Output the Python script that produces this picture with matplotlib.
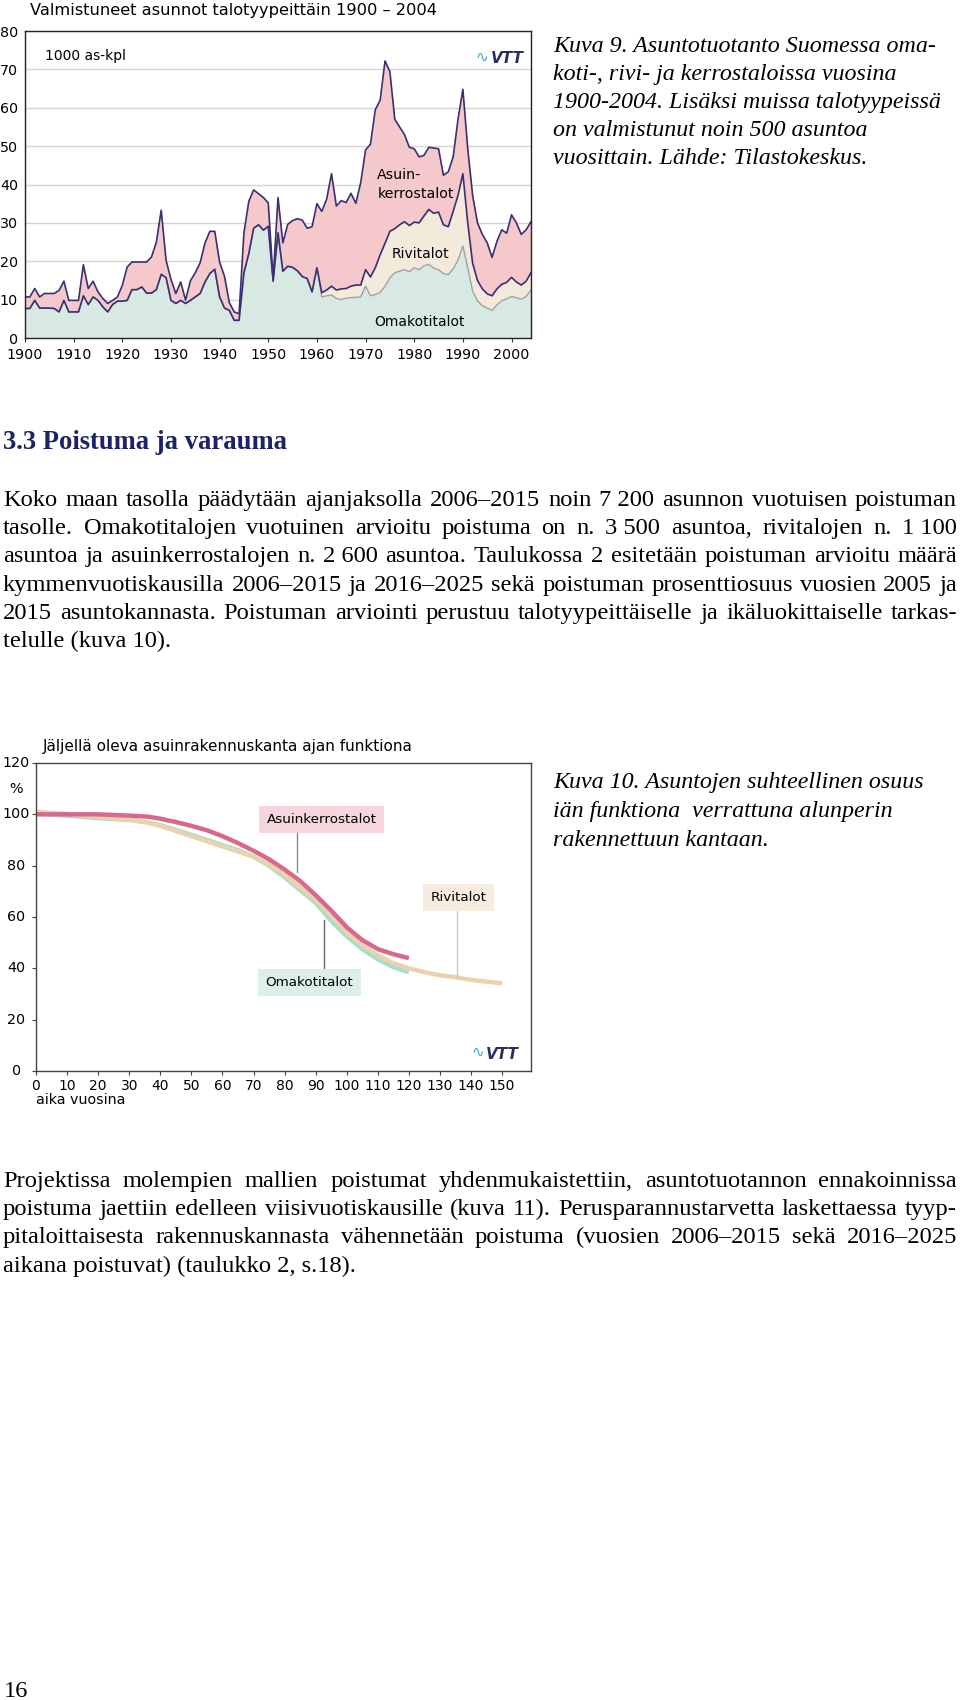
import numpy as np
import matplotlib
matplotlib.use("Agg")
import matplotlib.pyplot as plt

# ---------------- data: chart 1 (1000 dwellings / year, cumulative boundaries) -------------
years = np.arange(1900, 2005)
omakoti = [7.7, 7.7, 9.8, 7.8, 7.8, 7.8, 7.7, 6.8, 9.8, 6.8,
           6.8, 6.8, 11.0, 8.7, 10.7, 9.8, 8.1, 6.8, 8.7, 9.6,
           9.6, 9.8, 12.6, 12.6, 13.3, 11.7, 11.7, 12.6, 16.6, 15.7,
           9.8, 9.0, 9.8, 9.0, 9.8, 10.7, 11.6, 14.6, 16.8, 17.9,
           10.7, 7.8, 7.2, 4.6, 4.6, 17.0, 22.0, 28.6, 29.5, 28.1,
           29.1, 14.8, 27.4, 17.4, 18.7, 18.4, 17.5, 16.0, 15.5, 12.0,
           18.3, 10.7, 11.0, 11.2, 10.3, 10.0, 10.4, 10.5, 10.6, 10.7,
           13.5, 11.0, 11.3, 11.9, 13.5, 15.7, 17.0, 17.4, 17.8, 17.3,
           18.3, 17.8, 18.8, 19.2, 18.2, 17.8, 16.8, 16.5, 18.0, 20.3,
           24.0, 18.3, 12.2, 9.7, 8.4, 7.8, 7.2, 8.6, 9.7, 10.2,
           10.8, 10.5, 10.1, 10.8, 12.5]
omakoti_rivi = [7.7, 7.7, 9.8, 7.8, 7.8, 7.8, 7.7, 6.8, 9.8, 6.8,
                6.8, 6.8, 11.0, 8.7, 10.7, 9.8, 8.1, 6.8, 8.7, 9.6,
                9.6, 9.8, 12.6, 12.6, 13.3, 11.7, 11.7, 12.6, 16.6, 15.7,
                9.8, 9.0, 9.8, 9.0, 9.8, 10.7, 11.6, 14.6, 16.8, 17.9,
                10.7, 7.8, 7.2, 4.6, 4.6, 17.0, 22.0, 28.6, 29.5, 28.1,
                29.1, 14.8, 27.4, 17.4, 18.7, 18.4, 17.5, 16.0, 15.5, 12.0,
                18.3, 11.8, 12.5, 13.5, 12.5, 12.8, 12.9, 13.5, 13.8, 13.8,
                17.8, 15.9, 18.3, 21.7, 24.7, 27.8, 28.5, 29.5, 30.3, 29.3,
                30.2, 30.0, 31.8, 33.5, 32.5, 32.8, 29.5, 29.0, 33.0, 37.2,
                42.8, 30.0, 19.5, 15.0, 12.8, 11.5, 11.0, 12.8, 14.0, 14.5,
                15.8, 14.6, 13.8, 14.8, 17.0]
yhteensa = [10.7, 10.7, 12.9, 10.7, 11.6, 11.6, 11.6, 12.4, 14.8, 9.8,
            9.8, 9.8, 19.1, 12.9, 14.8, 12.0, 10.3, 9.0, 9.8, 10.7,
            13.7, 18.5, 19.8, 19.8, 19.8, 19.8, 21.1, 25.0, 33.3, 20.2,
            15.3, 11.6, 14.6, 9.9, 14.9, 17.0, 19.6, 24.8, 27.8, 27.8,
            19.8, 16.1, 9.2, 6.8, 6.3, 27.4, 35.6, 38.6, 37.6, 36.6,
            35.2, 15.3, 36.6, 24.8, 29.6, 30.6, 31.1, 30.7, 28.6, 29.0,
            35.0, 33.0, 36.2, 42.8, 34.4, 35.8, 35.3, 37.7, 35.1, 40.5,
            49.0, 50.5, 59.5, 62.0, 72.2, 69.4, 57.0, 55.0, 53.0, 49.7,
            49.3, 47.2, 47.6, 49.7, 49.5, 49.3, 42.4, 43.3, 47.2, 57.0,
            64.8, 49.3, 37.2, 30.0, 27.0, 24.8, 21.0, 25.2, 28.2, 27.3,
            32.1, 30.0, 27.0, 28.2, 30.3]
x1_ticks = list(range(1900, 2001, 10))
y1_ticks = list(range(0, 81, 10))

# ---------------- data: chart 2 (% remaining vs age) ----------------
age_k = [0, 10, 20, 30, 36, 40, 45, 50, 55, 60, 65, 70, 75, 80, 85, 90, 95, 100, 105, 110, 115, 120]
kerros = [100, 100, 100, 99.5, 99.1, 98.3, 97, 95.5, 93.8, 91.5, 88.8, 85.8, 82.5, 78.5, 74,
          68.5, 62.5, 56, 51, 47.5, 45.5, 44]
age_o = [0, 10, 20, 30, 35, 40, 45, 50, 55, 60, 65, 70, 75, 80, 85, 90, 95, 100, 105, 110, 115, 120]
omakotitalot = [100.3, 99.5, 98.5, 97.8, 97, 95.8, 94, 92, 90, 88, 86, 83.5, 80, 75.5, 70.5,
                65.5, 58.5, 52.5, 47.5, 43.5, 40.5, 38.5]
age_r = [0, 10, 20, 30, 35, 40, 45, 50, 55, 60, 65, 70, 75, 80, 85, 90, 95, 100, 105, 110,
         115, 120, 125, 130, 135, 140, 145, 150]
rivitalot = [101, 100.2, 99, 98, 97, 95.5, 93.5, 91.5, 89.5, 87.5, 85.5, 83.5, 80.5, 76.5, 71.5,
             66.5, 60.5, 54, 49, 45, 42, 40, 38.5, 37.3, 36.5, 35.5, 34.8, 34.2]
x2_ticks = list(range(0, 151, 10))
y2_ticks = [0, 20, 40, 60, 80, 100, 120]

# ---------------- texts ----------------
caption9 = ["Kuva 9. Asuntotuotanto Suomessa oma-",
            "koti-, rivi- ja kerrostaloissa vuosina",
            "1900-2004. Lisäksi muissa talotyypeissä",
            "on valmistunut noin 500 asuntoa",
            "vuosittain. Lähde: Tilastokeskus."]
caption10 = ["Kuva 10. Asuntojen suhteellinen osuus",
             "iän funktiona  verrattuna alunperin",
             "rakennettuun kantaan."]
heading = "3.3 Poistuma ja varauma"
NB = "\u00a0"
para1 = ["Koko maan tasolla päädytään ajanjaksolla 2006–2015 noin 7" + NB + "200 asunnon vuotuisen poistuman",
         "tasolle. Omakotitalojen vuotuinen arvioitu poistuma on n. 3" + NB + "500 asuntoa, rivitalojen n. 1" + NB + "100",
         "asuntoa ja asuinkerrostalojen n. 2" + NB + "600 asuntoa. Taulukossa 2 esitetään poistuman arvioitu määrä",
         "kymmenvuotiskausilla 2006–2015 ja 2016–2025 sekä poistuman prosenttiosuus vuosien 2005 ja",
         "2015 asuntokannasta. Poistuman arviointi perustuu talotyypeittäiselle ja ikäluokittaiselle tarkas-",
         "telulle (kuva 10)."]
para2 = ["Projektissa molempien mallien poistumat yhdenmukaistettiin, asuntotuotannon ennakoinnissa",
         "poistuma jaettiin edelleen viisivuotiskausille (kuva 11). Perusparannustarvetta laskettaessa tyyp-",
         "pitaloittaisesta rakennuskannasta vähennetään poistuma (vuosien 2006–2015 sekä 2016–2025",
         "aikana poistuvat) (taulukko 2, s.18)."]

# ---------------- figure ----------------
W, H = 960, 1700
fig = plt.figure(figsize=(W / 100, H / 100), dpi=100)
fig.patch.set_facecolor("white")
SANS = "DejaVu Sans"
SERIF = "Liberation Serif"
renderer = fig.canvas.get_renderer()


def fx(x):
    return x / W


def fy(y):
    return 1 - y / H


def add_axes_px(l, t, r, b):
    return fig.add_axes([fx(l), fy(b), (r - l) / W, (b - t) / H])


NAVY = "#3a2f70"
GREEN = "#d8e9e3"
BEIGE = "#f4eadb"
PINK = "#f5c8cc"

# ---- chart 1 ----
ax1 = add_axes_px(25, 31, 531, 338)
ax1.fill_between(years, 0, omakoti, color=GREEN, lw=0)
ax1.fill_between(years, omakoti, omakoti_rivi, color=BEIGE, lw=0)
ax1.fill_between(years, omakoti_rivi, yhteensa, color=PINK, lw=0)
ax1.plot(years, omakoti, color="#a0a0a8", lw=1.0)
ax1.plot(years, omakoti_rivi, color=NAVY, lw=1.2)
ax1.plot(years, yhteensa, color=NAVY, lw=1.2)
ax1.set_xlim(1900, 2004)
ax1.set_ylim(0, 80)
ax1.set_yticks(y1_ticks)
ax1.set_xticks(x1_ticks)
ax1.set_xticklabels([str(v) for v in x1_ticks], fontsize=10.3, family=SANS)
ax1.set_yticklabels([str(v) for v in y1_ticks], fontsize=10.3, family=SANS)
ax1.tick_params(axis="y", length=0, pad=5)
ax1.tick_params(axis="x", length=3, pad=4, color="#333333")
ax1.grid(axis="y", color="#d4d4d4", lw=1.0)
ax1.set_axisbelow(True)
for s in ax1.spines.values():
    s.set_color("#222222")
    s.set_linewidth(1.0)
ax1.text(0.04, 0.92, "1000 as-kpl", transform=ax1.transAxes, fontsize=10, family=SANS,
         va="center", ha="left")
ax1.text(1972.4, 42.6, "Asuin-", fontsize=10.2, family=SANS, va="center", ha="left")
ax1.text(1972.4, 37.6, "kerrostalot", fontsize=10.2, family=SANS, va="center", ha="left")
ax1.text(1981.2, 21.8, "Rivitalot", fontsize=10, family=SANS, va="center", ha="center")
ax1.text(1981.0, 4.1, "Omakotitalot", fontsize=10, family=SANS, va="center", ha="center")
ax1.text(0.915, 0.915, "∿", transform=ax1.transAxes, fontsize=11, color="#3fa9c9",
         ha="right", va="center")
ax1.text(0.985, 0.91, "VTT", transform=ax1.transAxes, fontsize=11, color="#2a2e5c",
         fontweight="bold", style="italic", ha="right", va="center", family=SANS)
fig.text(fx(30), fy(10), "Valmistuneet asunnot talotyypeittäin 1900 – 2004", fontsize=11.7,
         family=SANS, ha="left", va="center")

# ---- chart 2 ----
ax2 = add_axes_px(36, 763, 531, 1071)
ax2.plot(age_o, omakotitalot, color="#a8dccc", lw=3.2, solid_capstyle="butt")
ax2.plot(age_r, rivitalot, color="#e9d3ae", lw=3.2, solid_capstyle="butt")
ax2.plot(age_k, kerros, color="#d9688c", lw=3.2, solid_capstyle="butt")
ax2.set_xlim(0, 159.3)
ax2.set_ylim(0, 120)
ax2.set_xticks(x2_ticks)
ax2.set_xticklabels([str(v) for v in x2_ticks], fontsize=10, family=SANS)
ax2.set_yticks(y2_ticks)
ax2.set_yticklabels([])
ax2.tick_params(axis="x", length=3, pad=3, color="#444444")
ax2.tick_params(axis="y", length=3, color="#444444")
for s in ax2.spines.values():
    s.set_color("#444444")
    s.set_linewidth(1.0)
ytr = ax2.get_yaxis_transform()
for v in y2_ticks:
    ax2.text(-0.04, v, str(v), transform=ytr, fontsize=10.3, family=SANS, ha="center", va="center")
ax2.text(-0.04, 110, "%", transform=ytr, fontsize=10.3, family=SANS, ha="center", va="center")
ax2.text(0.0, -0.095, "aika vuosina", transform=ax2.transAxes, fontsize=10.3, family=SANS,
         ha="left", va="center")

ax2.plot([84, 84], [93.5, 77.5], color="#8a8a8a", lw=1.0)
ax2.plot([135.5, 135.5], [63.0, 36.8], color="#c8c8c8", lw=1.0)
ax2.plot([92.7, 92.7], [39.5, 58.7], color="#666666", lw=1.0)
ax2.text(92.0, 98.0, "Asuinkerrostalot", fontsize=9.7, family=SANS, ha="center", va="center",
         bbox=dict(boxstyle="square,pad=0.55", fc="#f7d5dc", ec="none"))
ax2.text(136.1, 67.6, "Rivitalot", fontsize=9.7, family=SANS, ha="center", va="center",
         bbox=dict(boxstyle="square,pad=0.55", fc="#f6ecdf", ec="none"))
ax2.text(88.0, 34.5, "Omakotitalot", fontsize=9.7, family=SANS, ha="center", va="center",
         bbox=dict(boxstyle="square,pad=0.55", fc="#ddefe9", ec="none"))
ax2.text(0.905, 0.06, "∿", transform=ax2.transAxes, fontsize=11, color="#3fa9c9",
         ha="right", va="center")
ax2.text(0.975, 0.055, "VTT", transform=ax2.transAxes, fontsize=11, color="#2a2e5c",
         fontweight="bold", style="italic", ha="right", va="center", family=SANS)
fig.text(fx(43), fy(746), "Jäljellä oleva asuinrakennuskanta ajan funktiona", fontsize=11,
         family=SANS, ha="left", va="center")

# ---------------- page text ----------------


def natural_width(line, size, **kw):
    t = fig.text(0, 0, line, fontsize=size, family=SERIF, **kw)
    w = t.get_window_extent(renderer).width
    t.remove()
    return w


full_lines = para1[:-1] + para2[:-1]
widest = max(natural_width(l, 17) for l in full_lines)
BODY = min(19.0, 17 * 0.99 * 954 / widest)


def justified(lines, first_base, spacing, x0, x1, size):
    for i, line in enumerate(lines):
        yb = fy(first_base + i * spacing)
        if i == len(lines) - 1:
            fig.text(fx(x0), yb, line, fontsize=size, family=SERIF, ha="left", va="baseline")
            continue
        words = line.split(" ")
        ts = [fig.text(0, yb, w, fontsize=size, family=SERIF, ha="left", va="baseline")
              for w in words]
        widths = [t.get_window_extent(renderer).width for t in ts]
        gap = ((x1 - x0) - sum(widths)) / (len(words) - 1)
        x = x0
        for t, w in zip(ts, widths):
            t.set_x(fx(x))
            x += w + gap


def plain(lines, first_base, spacing, x0, size, **kw):
    for i, line in enumerate(lines):
        fig.text(fx(x0), fy(first_base + i * spacing), line, fontsize=size, family=SERIF,
                 ha="left", va="baseline", **kw)


CAP = 17.3
plain(caption9, 52, 28.0, 553, CAP, style="italic")
plain(caption10, 788, 28.8, 553, CAP, style="italic")
fig.text(fx(3), fy(449), heading, fontsize=19.2, family=SERIF, fontweight="bold",
         color="#1c2366", ha="left", va="baseline")
justified(para1, 506, 28.2, 3, 957, BODY)
justified(para2, 1187, 28.2, 3, 957, BODY)
fig.text(fx(4), fy(1697), "16", fontsize=BODY, family=SERIF, ha="left", va="baseline")

fig.savefig("out.png", dpi=100, facecolor="white")
